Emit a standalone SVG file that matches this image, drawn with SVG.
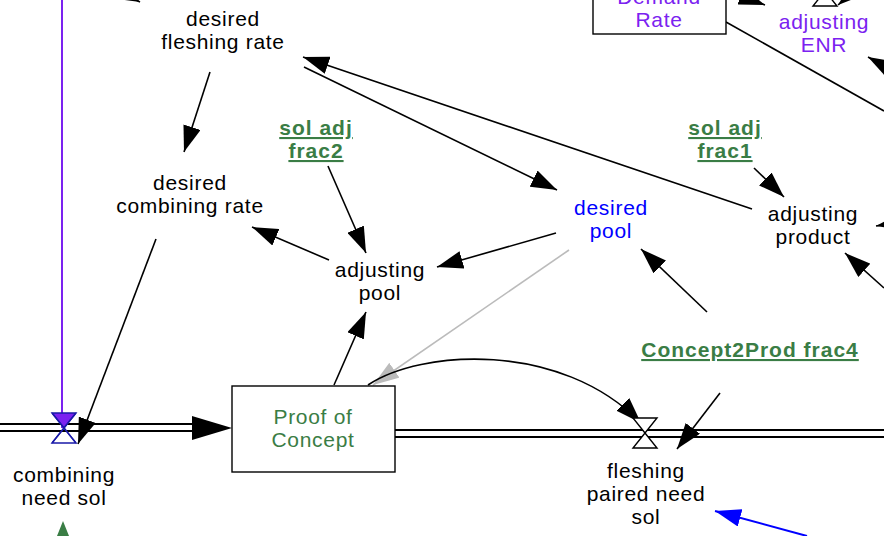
<svg xmlns="http://www.w3.org/2000/svg" width="884" height="536" viewBox="0 0 884 536">
<defs>
<marker id="ah" viewBox="0 0 26 18" refX="26" refY="9" markerWidth="26" markerHeight="18" markerUnits="userSpaceOnUse" orient="auto"><path d="M0,0 L26,9 L0,18 z" fill="#000"/></marker>
<marker id="ahg" viewBox="0 0 26 18" refX="26" refY="9" markerWidth="26" markerHeight="18" markerUnits="userSpaceOnUse" orient="auto"><path d="M0,0 L26,9 L0,18 z" fill="#bbbbbb"/></marker>
<marker id="ahb" viewBox="0 0 26 18" refX="26" refY="9" markerWidth="26" markerHeight="18" markerUnits="userSpaceOnUse" orient="auto"><path d="M0,0 L26,9 L0,18 z" fill="#0000ff"/></marker>
<style>
text{font-family:"Liberation Sans",Arial,Helvetica,sans-serif;font-size:21px;text-anchor:middle;letter-spacing:0.7px}
.k{fill:#000}
.b{fill:#0000ff}
.p{fill:#7b22f0}
.g{fill:#3a7d45}
.gb{fill:#3a7d45;font-weight:bold;text-decoration:underline;letter-spacing:1px}
.c{fill:none;stroke:#000;stroke-width:1.6}
.box{fill:#fff;stroke:#000;stroke-width:1.4}
.pipe{stroke:#000;stroke-width:2;fill:none}
.valve{fill:#fff;stroke:#000;stroke-width:1.4}
</style>
</defs>
<rect width="884" height="536" fill="#fff"/>

<g id="pipes">
<line class="pipe" x1="0" y1="424" x2="210" y2="424"/>
<line class="pipe" x1="0" y1="431" x2="210" y2="431"/>
<polygon points="192,416 232,428 192,440" fill="#000"/>
<line class="pipe" x1="395" y1="430" x2="884" y2="430"/>
<line class="pipe" x1="395" y1="437" x2="884" y2="437"/>
</g>

<g id="connectors">
<line class="c" x1="210" y1="72" x2="184" y2="152" marker-end="url(#ah)"/>
<line class="c" x1="304" y1="67" x2="557" y2="190" marker-end="url(#ah)"/>
<line class="c" x1="752" y1="209" x2="303" y2="57" marker-end="url(#ah)"/>
<line class="c" x1="754" y1="168" x2="784" y2="197" marker-end="url(#ah)"/>
<line class="c" x1="328" y1="166" x2="366" y2="253" marker-end="url(#ah)"/>
<line class="c" x1="329" y1="260" x2="252" y2="227" marker-end="url(#ah)"/>
<line class="c" x1="556" y1="233" x2="437" y2="267" marker-end="url(#ah)"/>
<line class="c" x1="334" y1="385" x2="366" y2="312" marker-end="url(#ah)"/>
<line x1="569" y1="250" x2="373" y2="385" stroke="#bbbbbb" stroke-width="1.6" marker-end="url(#ahg)"/>
<path class="c" d="M368 385 C420 350 560 340 641 423" marker-end="url(#ah)"/>
<line class="c" x1="720" y1="393" x2="677" y2="449" marker-end="url(#ah)"/>
<line class="c" x1="707" y1="312" x2="641" y2="249" marker-end="url(#ah)"/>
<line class="c" x1="156" y1="239" x2="78" y2="444" marker-end="url(#ah)"/>
<line x1="807" y1="536" x2="715" y2="511" stroke="#0000ff" stroke-width="2" marker-end="url(#ahb)"/>
<line class="c" x1="726" y1="22" x2="884" y2="111"/>
<line class="c" x1="735" y1="-6" x2="765" y2="5" marker-end="url(#ah)"/>
<line class="c" x1="858" y1="-12" x2="838" y2="5" marker-end="url(#ah)"/>
<line class="c" x1="895" y1="72" x2="868" y2="57" marker-end="url(#ah)"/>
<line class="c" x1="900" y1="222" x2="876" y2="226" marker-end="url(#ah)"/>
<line class="c" x1="884" y1="288" x2="845" y2="253" marker-end="url(#ah)"/>
<line class="c" x1="120" y1="-8" x2="140" y2="2" marker-end="url(#ah)"/>
<line x1="62" y1="0" x2="62" y2="428" stroke="#7b22f0" stroke-width="2"/>
<polygon points="63,521 57,536 69,536" fill="#3a7d45"/>
</g>

<g id="combining-need-sol">
<polygon points="52,413 76,413 64,428" fill="#7b22f0" stroke="#1a1aa8" stroke-width="1.4"/>
<polygon points="64,428 52,443 76,443" fill="none" stroke="#1a1aa8" stroke-width="1.4"/>
<line x1="52" y1="413" x2="76" y2="443" stroke="#1a1aa8" stroke-width="1.4"/>
<line x1="76" y1="413" x2="52" y2="443" stroke="#1a1aa8" stroke-width="1.4"/>
<text class="k" x="64" y="482">combining</text>
<text class="k" x="64" y="505">need sol</text>
</g>

<g id="fleshing-paired-need-sol">
<polygon class="valve" points="633,418 657,418 645,433 633,448 657,448 645,433"/>
<text class="k" x="646" y="478">fleshing</text>
<text class="k" x="646" y="501">paired need</text>
<text class="k" x="646" y="524">sol</text>
</g>

<g id="adjusting-ENR">
<polygon class="valve" points="813,-24 837,-24 825,-9 813,6 837,6 825,-9"/>
<text class="p" x="824" y="29">adjusting</text>
<text class="p" x="824" y="52">ENR</text>
</g>

<g id="demand-rate">
<rect class="box" x="593" y="-40" width="133" height="74"/>
<text class="p" x="659" y="4">Demand</text>
<text class="p" x="659" y="27">Rate</text>
</g>

<g id="proof-of-concept">
<rect class="box" x="232" y="386" width="163" height="86"/>
<text class="g" x="313" y="424">Proof of</text>
<text class="g" x="313" y="447">Concept</text>
</g>

<g id="desired-fleshing-rate">
<text class="k" x="223" y="26">desired</text>
<text class="k" x="223" y="49">fleshing rate</text>
</g>

<g id="desired-combining-rate">
<text class="k" x="190" y="190">desired</text>
<text class="k" x="190" y="213">combining rate</text>
</g>

<g id="sol-adj-frac2">
<text class="gb" x="316" y="135">sol adj</text>
<text class="gb" x="316" y="158">frac2</text>
</g>

<g id="adjusting-pool">
<text class="k" x="380" y="277">adjusting</text>
<text class="k" x="380" y="300">pool</text>
</g>

<g id="desired-pool">
<text class="b" x="611" y="215">desired</text>
<text class="b" x="611" y="238">pool</text>
</g>

<g id="sol-adj-frac1">
<text class="gb" x="725" y="135">sol adj</text>
<text class="gb" x="725" y="158">frac1</text>
</g>

<g id="adjusting-product">
<text class="k" x="813" y="221">adjusting</text>
<text class="k" x="813" y="244">product</text>
</g>

<g id="concept2prod-frac4">
<text class="gb" x="750" y="357">Concept2Prod frac4</text>
</g>
</svg>
